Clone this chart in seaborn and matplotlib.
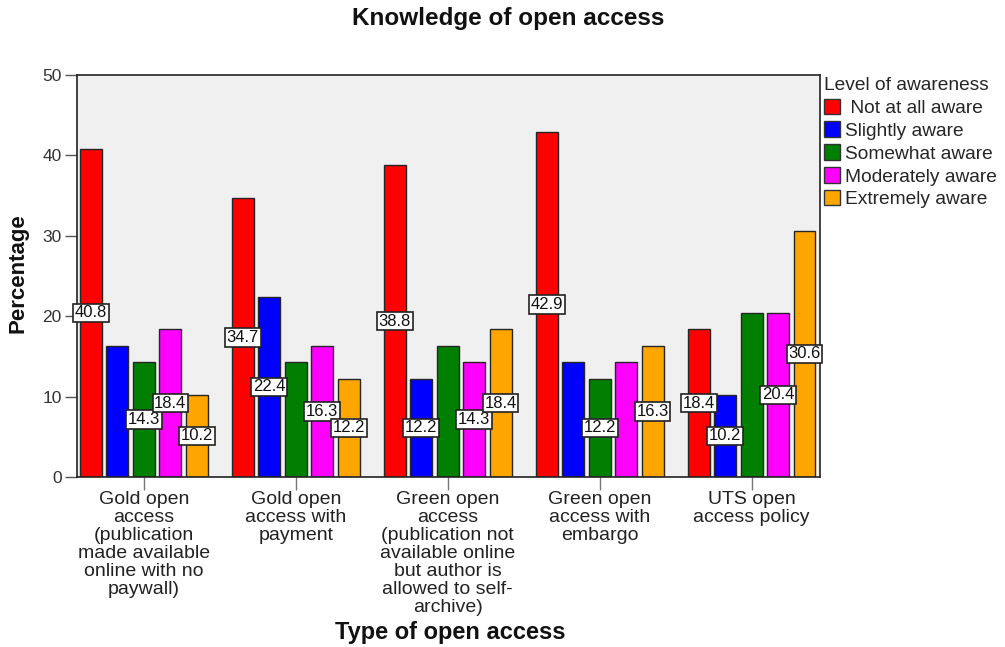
import matplotlib
matplotlib.use("Agg")
import matplotlib.pyplot as plt
import seaborn as sns
import pandas as pd

# ---- data ----
categories = [
    "Gold open\naccess\n(publication\nmade available\nonline with no\npaywall)",
    "Gold open\naccess with\npayment",
    "Green open\naccess\n(publication not\navailable online\nbut author is\nallowed to self-\narchive)",
    "Green open\naccess with\nembargo",
    "UTS open\naccess policy",
]
levels = ["Not at all aware", "Slightly aware", "Somewhat aware",
          "Moderately aware", "Extremely aware"]
not_at_all = [40.8, 34.7, 38.8, 42.9, 18.4]
slightly = [16.3, 22.4, 12.2, 14.3, 10.2]
somewhat = [14.3, 14.3, 16.3, 12.2, 20.4]
moderately = [18.4, 16.3, 14.3, 14.3, 20.4]
extremely = [10.2, 12.2, 18.4, 16.3, 30.6]
# which value labels are visible in the original
show_not_at_all = [True, True, True, True, True]
show_slightly = [False, True, True, False, True]
show_somewhat = [True, False, False, True, False]
show_moderately = [True, True, True, False, True]
show_extremely = [True, True, True, True, True]
yticks = [0, 10, 20, 30, 40, 50]
colors = ["#FF0000", "#0000FF", "#007F00", "#FF00FF", "#FFA500"]

series = [not_at_all, slightly, somewhat, moderately, extremely]
shows = [show_not_at_all, show_slightly, show_somewhat, show_moderately, show_extremely]

rows = []
for lev, vals in zip(levels, series):
    for cat, v in zip(categories, vals):
        rows.append({"type": cat, "level": lev, "pct": v})
df = pd.DataFrame(rows)

sns.set_style("white")
plt.rcParams["font.family"] = ["Liberation Sans", "DejaVu Sans"]

fig = plt.figure(figsize=(10.05, 6.47), dpi=100)
ax = fig.add_axes([77 / 1005, 1 - 477 / 647, (820 - 77) / 1005, (477 - 75) / 647])
ax.set_facecolor("#F0F0F0")

sns.barplot(data=df, x="type", y="pct", hue="level", order=categories,
            hue_order=levels, palette=colors, saturation=1, width=0.87,
            gap=0.17, edgecolor="#262626", linewidth=1.0, ax=ax, legend=True)

ax.set_ylim(0, 50)
ax.set_xlim(-0.44, 4.45)
ax.set_yticks(yticks)
ax.set_yticklabels([str(t) for t in yticks], fontsize=12.5, color="#333333")
ax.tick_params(axis="y", length=9, width=1, color="#555555", pad=2, left=True)
ax.tick_params(axis="x", length=9, width=1, color="#777777", pad=1, bottom=True)
for lbl in ax.get_xticklabels():
    lbl.set_fontsize(14)
    lbl.set_linespacing(1.08)
    lbl.set_color("#222222")
for s in ax.spines.values():
    s.set_color("#222222")
    s.set_linewidth(1.2)
ax.set_xlabel("")
ax.set_ylabel("")

for cont, vals, sh in zip(ax.containers, series, shows):
    for bar, v, s in zip(cont, vals, sh):
        if not s:
            continue
        x = bar.get_x() + bar.get_width() / 2
        ax.text(x, bar.get_height() / 2, f"{v:.1f}", ha="center", va="center",
                fontsize=12, color="#111111",
                bbox=dict(boxstyle="square,pad=0.1", fc="white", ec="#222222", lw=1.2))

handles, _ = ax.get_legend_handles_labels()
leg = ax.legend(handles, [" " + levels[0]] + levels[1:], title="Level of awareness",
                loc="upper left", bbox_to_anchor=(824 / 1005, 1 - 77 / 647),
                bbox_transform=fig.transFigure, frameon=False, fontsize=13.8,
                title_fontsize=13.8, handlelength=0.85, handleheight=0.85,
                handletextpad=0.25, labelspacing=0.24, borderaxespad=0,
                borderpad=0, alignment="left")
for h in leg.legend_handles:
    h.set_edgecolor("#333333")
    h.set_linewidth(1.0)

fig.text(508 / 1005, 1 - 18 / 647, "Knowledge of open access", ha="center", va="center",
         fontsize=17.5, fontweight="bold", color="#111111")
fig.text(450 / 1005, 1 - 632 / 647, "Type of open access", ha="center", va="center",
         fontsize=17, fontweight="bold", color="#111111")
fig.text(18 / 1005, 1 - 273 / 647, "Percentage", ha="center", va="center",
         rotation=90, fontsize=16, fontweight="bold", color="#111111")

fig.savefig("out.png", dpi=100)
